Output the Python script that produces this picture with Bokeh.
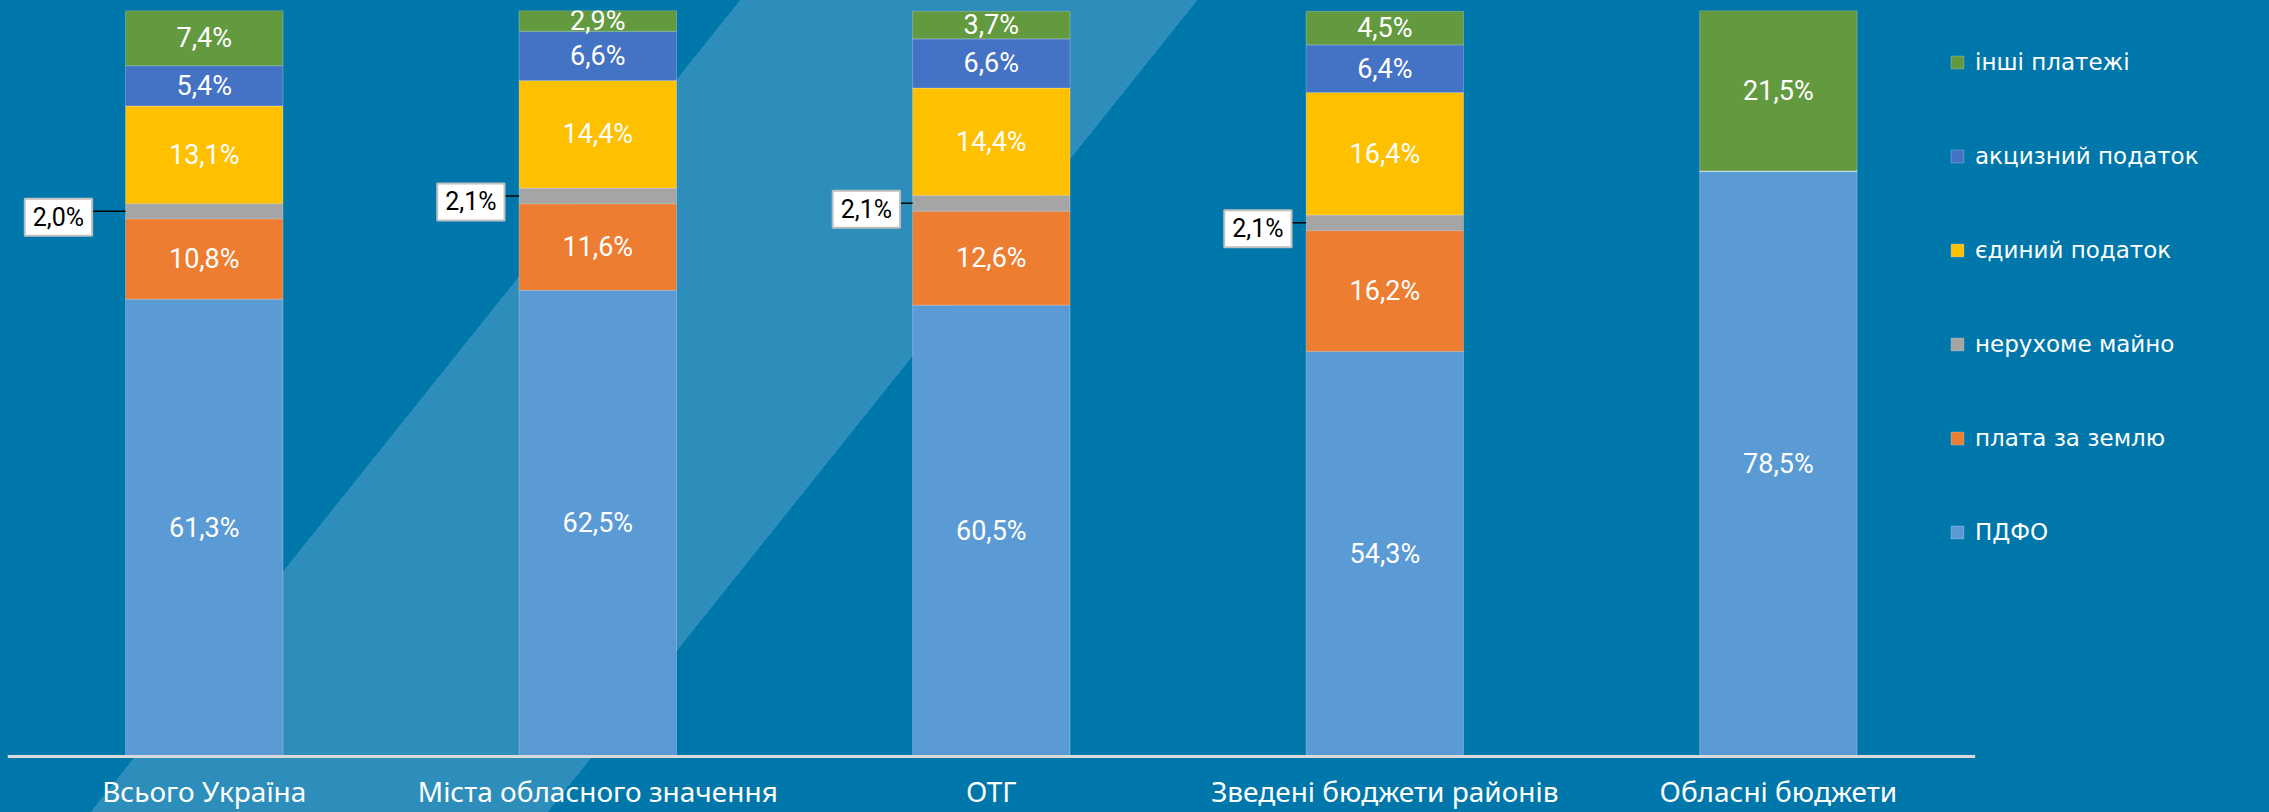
from bokeh.plotting import figure
from bokeh.models import Range1d, FixedTicker, Legend, LegendItem, ColumnDataSource
from bokeh.core.properties import value
from bokeh.embed import file_html
from bokeh.resources import INLINE

# ---- data ----
categories = ["Всього Україна", "Міста обласного значення", "ОТГ",
              "Зведені бюджети районів", "Обласні бюджети"]
pdfo = [61.3, 62.5, 60.5, 54.3, 78.5]
land = [10.8, 11.6, 12.6, 16.2, 0.0]
property_tax = [2.0, 2.1, 2.1, 2.1, 0.0]
single_tax = [13.1, 14.4, 14.4, 16.4, 0.0]
excise = [5.4, 6.6, 6.6, 6.4, 0.0]
other = [7.4, 2.9, 3.7, 4.5, 21.5]

series_keys = ["pdfo", "land", "property", "single", "excise", "other"]
series_names = ["ПДФО", "плата за землю", "нерухоме майно", "єдиний податок",
                "акцизний податок", "інші платежі"]
series_vals = [pdfo, land, property_tax, single_tax, excise, other]
colors = ["#5B9BD5", "#ED7D31", "#A5A5A5", "#FFC000", "#4472C4", "#639A3F"]

# styling: horizontal position of the callout boxes' right edge (x units from bar centre)
callout_edge = [-0.285, -0.237, -0.232, -0.237, -0.237]

BG = "#0077AA"
BAND = "#2E8EBB"
LABEL_FONT = "Roboto"

n = len(categories)
xs = list(range(n))
src = ColumnDataSource(dict(x=xs, **{k: v for k, v in zip(series_keys, series_vals)}))

p = figure(width=2269, height=812, output_backend="svg", toolbar_location=None,
           x_range=Range1d(-0.5, 5.248), y_range=Range1d(-0.27, 100),
           y_axis_location=None, min_border_left=7, min_border_top=10,
           min_border_right=0, min_border_bottom=53)
p.background_fill_color = None
p.border_fill_color = None
p.outline_line_color = None
p.xgrid.visible = False
p.ygrid.visible = False
# page background with the light diagonal band
p.styles = {"background": f"linear-gradient(128.66deg, {BG} 578px, {BAND} 578px, "
                          f"{BAND} 935px, {BG} 935px)"}

renderers = p.vbar_stack(series_keys, x="x", width=0.4, color=colors, source=src,
                         line_color="white", line_alpha=0.25, line_width=1)

# baseline (axis line) across the category span
p.segment(x0=[-0.5], y0=[0], x1=[n - 0.5], y1=[0], line_color="#D9D9D9", line_width=3)

# in-bar labels
lx, ly, lt = [], [], []
cx, cy, ct, ce = [], [], [], []
for i in xs:
    bottom = 0.0
    for key, vals in zip(series_keys, series_vals):
        v = vals[i]
        if v > 0:
            txt = f"{v:.1f}%".replace(".", ",")
            if key == "property":
                cx.append(i)
                cy.append(bottom + v / 2)
                ct.append(txt)
                ce.append(i + callout_edge[i])
            else:
                lx.append(i)
                ly.append(bottom + v / 2)
                lt.append(txt)
        bottom += v

p.text(x=lx, y=ly, text=lt, text_align="center", text_baseline="middle",
       text_color="white", text_font=value(LABEL_FONT), text_font_size="27px")

# callouts for the small segment
p.segment(x0=ce, y0=cy, x1=[c - 0.2 for c in cx], y1=cy,
          line_color="black", line_width=1.5)
p.text(x=ce, y=cy, text=ct, text_align="right",
       text_baseline="middle", y_offset=6,
       text_color="black", text_font=value(LABEL_FONT), text_font_size="25px",
       background_fill_color="white", border_line_color="#BFBFBF",
       border_line_width=2, padding=[8, 4])

# axis (labels only)
ax = p.xaxis[0]
ax.ticker = FixedTicker(ticks=xs)
ax.major_label_overrides = {i: c for i, c in zip(xs, categories)}
ax.axis_line_color = None
ax.major_tick_line_color = None
ax.minor_tick_line_color = None
ax.major_label_text_color = "white"
ax.major_label_text_font = "Noto Sans"
ax.major_label_text_font_size = "28px"
ax.major_label_standoff = 7

legend = Legend(items=[LegendItem(label=nm, renderers=[r])
                       for nm, r in reversed(list(zip(series_names, renderers)))],
                location=(1942, 211), orientation="vertical",
                glyph_width=16, glyph_height=16, label_height=30, spacing=64,
                padding=0, margin=0, label_standoff=10,
                label_text_color="white", label_text_font="DejaVu Sans",
                label_text_font_size="23px",
                background_fill_alpha=0, border_line_alpha=0)
p.add_layout(legend, "center")

open("out.html", "w").write(file_html(p, INLINE))
